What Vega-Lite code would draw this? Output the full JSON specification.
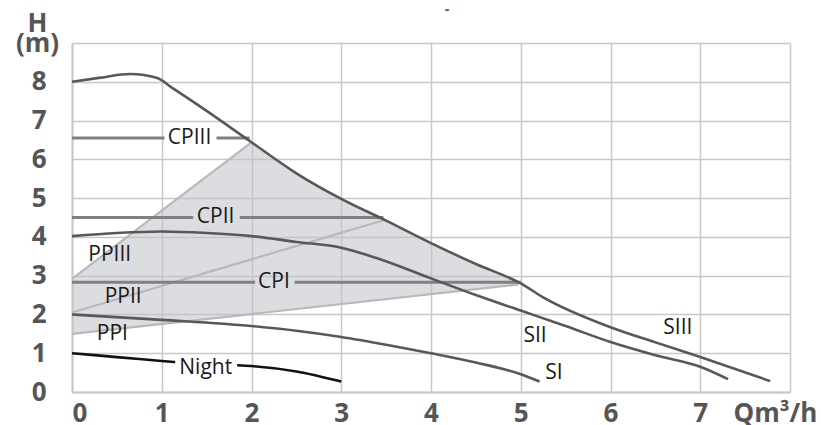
{
  "$schema": "https://vega.github.io/schema/vega-lite/v6.json",
  "width": 718,
  "height": 349,
  "autosize": {"type": "none"},
  "padding": {"left": 72, "top": 43, "right": 31, "bottom": 33},
  "background": "white",
  "title": {"text": "-", "fontSize": 14, "color": "#555555", "fontWeight": "bold", "dx": 16, "offset": -14, "frame": "group", "anchor": "middle", "baseline": "middle"},
  "config": {
    "view": {"stroke": null},
    "axis": {
      "gridColor": "#c8c8c8", "gridWidth": 1.5, "domainColor": "#c8c8c8", "domainWidth": 2,
      "ticks": false, "labelFont": "Open Sans", "labelFontWeight": "bold", "labelFontSize": 26,
      "labelColor": "#555555", "titleFont": "Open Sans", "titleFontWeight": "bold",
      "titleFontSize": 26, "titleColor": "#555555"
    }
  },
  "datasets": {
    "lines": [
      {"kind": "S", "seg": "SIII", "x": 0, "y": 8.0},
      {"kind": "S", "seg": "SIII", "x": 0.3, "y": 8.1},
      {"kind": "S", "seg": "SIII", "x": 0.65, "y": 8.2},
      {"kind": "S", "seg": "SIII", "x": 0.95, "y": 8.1},
      {"kind": "S", "seg": "SIII", "x": 1.1, "y": 7.87},
      {"kind": "S", "seg": "SIII", "x": 1.5, "y": 7.25},
      {"kind": "S", "seg": "SIII", "x": 2, "y": 6.44},
      {"kind": "S", "seg": "SIII", "x": 2.5, "y": 5.64},
      {"kind": "S", "seg": "SIII", "x": 3, "y": 4.98},
      {"kind": "S", "seg": "SIII", "x": 3.5, "y": 4.42},
      {"kind": "S", "seg": "SIII", "x": 4, "y": 3.84},
      {"kind": "S", "seg": "SIII", "x": 4.5, "y": 3.3},
      {"kind": "S", "seg": "SIII", "x": 5, "y": 2.8},
      {"kind": "S", "seg": "SIII", "x": 5.25, "y": 2.44},
      {"kind": "S", "seg": "SIII", "x": 6, "y": 1.67},
      {"kind": "S", "seg": "SIII", "x": 6.5, "y": 1.28},
      {"kind": "S", "seg": "SIII", "x": 7, "y": 0.9},
      {"kind": "S", "seg": "SIII", "x": 7.78, "y": 0.28},
      {"kind": "S", "seg": "SII", "x": 0, "y": 4.02},
      {"kind": "S", "seg": "SII", "x": 0.5, "y": 4.1},
      {"kind": "S", "seg": "SII", "x": 1, "y": 4.14},
      {"kind": "S", "seg": "SII", "x": 1.5, "y": 4.1},
      {"kind": "S", "seg": "SII", "x": 2, "y": 4.02},
      {"kind": "S", "seg": "SII", "x": 2.5, "y": 3.87},
      {"kind": "S", "seg": "SII", "x": 3, "y": 3.72},
      {"kind": "S", "seg": "SII", "x": 3.4, "y": 3.45},
      {"kind": "S", "seg": "SII", "x": 4, "y": 2.93},
      {"kind": "S", "seg": "SII", "x": 4.5, "y": 2.5},
      {"kind": "S", "seg": "SII", "x": 5, "y": 2.1},
      {"kind": "S", "seg": "SII", "x": 5.5, "y": 1.7},
      {"kind": "S", "seg": "SII", "x": 6, "y": 1.29},
      {"kind": "S", "seg": "SII", "x": 6.5, "y": 0.95},
      {"kind": "S", "seg": "SII", "x": 7, "y": 0.65},
      {"kind": "S", "seg": "SII", "x": 7.31, "y": 0.33},
      {"kind": "S", "seg": "SI", "x": 0, "y": 2.0},
      {"kind": "S", "seg": "SI", "x": 1, "y": 1.86},
      {"kind": "S", "seg": "SI", "x": 2, "y": 1.7},
      {"kind": "S", "seg": "SI", "x": 2.5, "y": 1.58},
      {"kind": "S", "seg": "SI", "x": 3, "y": 1.42},
      {"kind": "S", "seg": "SI", "x": 3.5, "y": 1.22},
      {"kind": "S", "seg": "SI", "x": 4, "y": 1.0},
      {"kind": "S", "seg": "SI", "x": 4.5, "y": 0.76},
      {"kind": "S", "seg": "SI", "x": 5, "y": 0.46},
      {"kind": "S", "seg": "SI", "x": 5.21, "y": 0.27},
      {"kind": "N", "seg": "N1", "x": 0, "y": 1.0},
      {"kind": "N", "seg": "N1", "x": 0.5, "y": 0.9},
      {"kind": "N", "seg": "N1", "x": 1, "y": 0.8},
      {"kind": "N", "seg": "N1", "x": 1.15, "y": 0.77},
      {"kind": "N", "seg": "N2", "x": 1.84, "y": 0.69},
      {"kind": "N", "seg": "N2", "x": 2, "y": 0.67},
      {"kind": "N", "seg": "N2", "x": 2.5, "y": 0.53},
      {"kind": "N", "seg": "N2", "x": 3, "y": 0.27},
      {"kind": "CP", "seg": "CPIII1", "x": 0, "y": 6.55},
      {"kind": "CP", "seg": "CPIII1", "x": 1.03, "y": 6.55},
      {"kind": "CP", "seg": "CPIII2", "x": 1.61, "y": 6.55},
      {"kind": "CP", "seg": "CPIII2", "x": 1.98, "y": 6.55},
      {"kind": "CP", "seg": "CPII1", "x": 0, "y": 4.5},
      {"kind": "CP", "seg": "CPII1", "x": 1.35, "y": 4.5},
      {"kind": "CP", "seg": "CPII2", "x": 1.87, "y": 4.5},
      {"kind": "CP", "seg": "CPII2", "x": 3.47, "y": 4.5},
      {"kind": "CP", "seg": "CPI1", "x": 0, "y": 2.83},
      {"kind": "CP", "seg": "CPI1", "x": 2.04, "y": 2.83},
      {"kind": "CP", "seg": "CPI2", "x": 2.48, "y": 2.83},
      {"kind": "CP", "seg": "CPI2", "x": 5.0, "y": 2.83},
      {"kind": "PP", "seg": "PPIII", "x": 0, "y": 2.92},
      {"kind": "PP", "seg": "PPIII", "x": 2, "y": 6.44},
      {"kind": "PP", "seg": "PPII", "x": 0, "y": 2.05},
      {"kind": "PP", "seg": "PPII", "x": 3.47, "y": 4.43},
      {"kind": "PP", "seg": "PPI", "x": 0, "y": 1.5},
      {"kind": "PP", "seg": "PPI", "x": 4.97, "y": 2.77}
    ],
    "zone": [
      {"x": 0, "top": 2.92, "bottom": 1.5},
      {"x": 2, "top": 6.44, "bottom": 2.01},
      {"x": 2.5, "top": 5.64, "bottom": 2.14},
      {"x": 3, "top": 4.98, "bottom": 2.27},
      {"x": 3.5, "top": 4.42, "bottom": 2.39},
      {"x": 4, "top": 3.84, "bottom": 2.52},
      {"x": 4.5, "top": 3.3, "bottom": 2.65},
      {"x": 5, "top": 2.8, "bottom": 2.78}
    ],
    "labels": [
      {"t": "CPIII", "x": 1.31, "y": 6.55},
      {"t": "CPII", "x": 1.6, "y": 4.52},
      {"t": "CPI", "x": 2.25, "y": 2.84},
      {"t": "Night", "x": 1.49, "y": 0.62},
      {"t": "PPIII", "x": 0.42, "y": 3.53},
      {"t": "PPII", "x": 0.57, "y": 2.45},
      {"t": "PPI", "x": 0.45, "y": 1.5},
      {"t": "SII", "x": 5.16, "y": 1.44},
      {"t": "SIII", "x": 6.75, "y": 1.66},
      {"t": "SI", "x": 5.37, "y": 0.5}
    ]
  },
  "encoding": {
    "x": {
      "field": "x", "type": "quantitative",
      "scale": {"domain": [0, 8], "nice": false},
      "axis": {
        "values": [0, 1, 2, 3, 4, 5, 6, 7, 8],
        "labelExpr": "datum.value <= 7 ? datum.label : ''",
        "labelPadding": 8, "labelBaseline": "top",
        "title": "Qm³/h", "titleX": 703, "titleY": 21, "titleAlign": "center", "titleBaseline": "middle"
      }
    },
    "y": {
      "field": "y", "type": "quantitative",
      "scale": {"domain": [0, 9], "nice": false},
      "axis": {
        "values": [0, 1, 2, 3, 4, 5, 6, 7, 8, 9],
        "labelExpr": "datum.value <= 8 ? datum.label : ''",
        "labelPadding": 26,
        "title": ["H", "(m)"], "titleAngle": 0, "titleX": -35, "titleY": -33,
        "titleAlign": "center", "titleBaseline": "top", "titleLineHeight": 20
      }
    }
  },
  "layer": [
    {
      "data": {"name": "zone"},
      "mark": {"type": "area", "color": "#bfc1c6", "opacity": 0.55},
      "encoding": {"y": {"field": "top", "type": "quantitative"}, "y2": {"field": "bottom"}}
    },
    {
      "data": {"name": "lines"},
      "transform": [{"filter": "datum.kind == 'PP'"}],
      "mark": {"type": "line", "color": "#b9b9b9", "strokeWidth": 2.2},
      "encoding": {"detail": {"field": "seg"}}
    },
    {
      "data": {"name": "lines"},
      "transform": [{"filter": "datum.kind == 'CP'"}],
      "mark": {"type": "line", "color": "#808080", "strokeWidth": 3},
      "encoding": {"detail": {"field": "seg"}}
    },
    {
      "data": {"name": "lines"},
      "transform": [{"filter": "datum.kind == 'S'"}],
      "mark": {"type": "line", "color": "#585858", "strokeWidth": 2.6, "interpolate": "monotone"},
      "encoding": {"detail": {"field": "seg"}}
    },
    {
      "data": {"name": "lines"},
      "transform": [{"filter": "datum.kind == 'N'"}],
      "mark": {"type": "line", "color": "#111111", "strokeWidth": 2.6, "interpolate": "monotone"},
      "encoding": {"detail": {"field": "seg"}}
    },
    {
      "data": {"name": "labels"},
      "mark": {"type": "text", "font": "Open Sans", "fontSize": 21, "color": "#1a1a1a", "align": "center", "baseline": "middle"},
      "encoding": {"text": {"field": "t"}}
    }
  ]
}
